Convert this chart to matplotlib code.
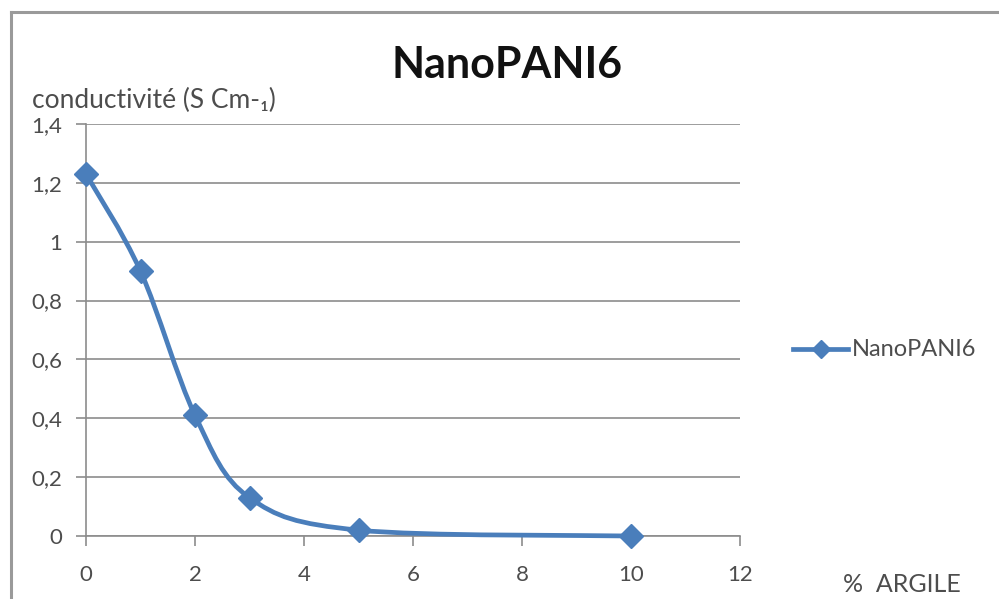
import matplotlib
matplotlib.use("Agg")
import matplotlib.pyplot as plt
from matplotlib.path import Path
from matplotlib.patches import PathPatch
from matplotlib.lines import Line2D
import numpy as np

plt.rcParams['font.family'] = ['Lato', 'DejaVu Sans']

x_vals = [0, 1, 2, 3, 5, 10]
y_vals = [1.23, 0.90, 0.41, 0.13, 0.02, 0.0]
series_name = "NanoPANI6"
title = "NanoPANI6"
y_label = "conductivité (S Cm-\u2081)"
x_label = "%  ARGILE"
x_ticks = [0, 2, 4, 6, 8, 10, 12]
y_ticks = [0, 0.2, 0.4, 0.6, 0.8, 1.0, 1.2, 1.4]
y_tick_labels = ["0", "0,2", "0,4", "0,6", "0,8", "1", "1,2", "1,4"]

blue = "#4A7EBB"
grid = "#8C8C8C"
txt = "#4D4D4D"

fig = plt.figure(figsize=(9.99, 5.99), dpi=100)
# chart border (top & left visible)
fig.add_artist(Line2D([11/999, 11/999], [0, 1-12/599], color="#9A9A9A", lw=2.2, transform=fig.transFigure))
fig.add_artist(Line2D([11/999, 1], [1-12/599, 1-12/599], color="#9A9A9A", lw=2.2, transform=fig.transFigure))

ax = fig.add_axes([86/999, 1-536/599, (740-86)/999, (536-124)/599])
ax.set_xlim(0, 12)
ax.set_ylim(0, 1.4)
for s in ["top", "right"]:
    ax.spines[s].set_visible(False)
for s in ["left", "bottom"]:
    ax.spines[s].set_color(grid)
    ax.spines[s].set_linewidth(1.2)
ax.set_xticks(x_ticks)
ax.set_xticklabels([str(t) for t in x_ticks])
ax.set_yticks(y_ticks)
ax.set_yticklabels(y_tick_labels)
ax.tick_params(axis="both", direction="out", length=7, width=1.2, color=grid,
               labelsize=16, labelcolor=txt)
ax.tick_params(axis="y", pad=10)
ax.tick_params(axis="x", pad=14)
ax.yaxis.grid(True, color=grid, lw=1.2)
ax.set_axisbelow(True)

# smoothed line (Excel-like Bezier through data points)
pts = np.column_stack([x_vals, y_vals]).astype(float)
n = len(pts)
verts = [pts[0]]
codes = [Path.MOVETO]
for i in range(n - 1):
    p0 = pts[i - 1] if i > 0 else pts[i]
    p1 = pts[i]
    p2 = pts[i + 1]
    p3 = pts[i + 2] if i + 2 < n else pts[i + 1]
    c1 = p1 + (p2 - p0) / 6.0
    c2 = p2 - (p3 - p1) / 6.0
    verts += [c1, c2, p2]
    codes += [Path.CURVE4] * 3
path = Path(verts, codes)
ax.add_patch(PathPatch(path, facecolor="none", edgecolor=blue, lw=3.4, clip_on=False, zorder=3))
ax.plot(x_vals, y_vals, linestyle="none", marker="D", markersize=12, color=blue,
        clip_on=False, zorder=4)

fig.text(507/999, 1-65/599, title, ha="center", va="center", fontsize=31, fontweight="bold", color="#111111")
fig.text(32/999, 1-100/599, y_label, ha="left", va="center", fontsize=19, color=txt)
fig.text(843/999, 1-585/599, x_label, ha="left", va="center", fontsize=18, color=txt)

# legend
fig.add_artist(Line2D([793/999, 848/999], [1-349/599, 1-349/599], color=blue, lw=3.4,
                      transform=fig.transFigure))
fig.add_artist(Line2D([820.5/999], [1-349/599], color=blue, marker="D", markersize=9,
                      linestyle="none", transform=fig.transFigure))
fig.text(852/999, 1-349/599, series_name, ha="left", va="center", fontsize=17, color=txt)

fig.savefig("out.png", dpi=100)
